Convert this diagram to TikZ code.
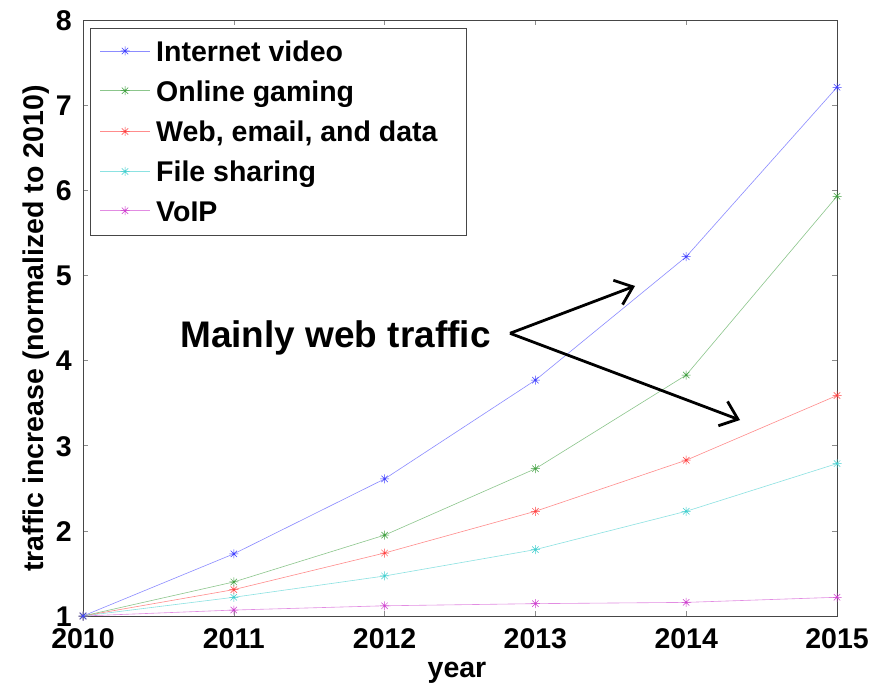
\documentclass[tikz,border=0pt]{standalone}
\usepackage{fontspec}
\setmainfont{Liberation Sans}
\usetikzlibrary{arrows.meta,plotmarks}
\pgfdeclareplotmark{mstar}{%
  \pgfpathmoveto{\pgfqpoint{-\pgfplotmarksize}{0pt}}\pgfpathlineto{\pgfqpoint{\pgfplotmarksize}{0pt}}%
  \pgfpathmoveto{\pgfqpoint{0pt}{-\pgfplotmarksize}}\pgfpathlineto{\pgfqpoint{0pt}{\pgfplotmarksize}}%
  \pgfpathmoveto{\pgfqpoint{-.7071\pgfplotmarksize}{-.7071\pgfplotmarksize}}\pgfpathlineto{\pgfqpoint{.7071\pgfplotmarksize}{.7071\pgfplotmarksize}}%
  \pgfpathmoveto{\pgfqpoint{-.7071\pgfplotmarksize}{.7071\pgfplotmarksize}}\pgfpathlineto{\pgfqpoint{.7071\pgfplotmarksize}{-.7071\pgfplotmarksize}}%
  \pgfusepathqstroke}
\definecolor{axgray}{RGB}{70,70,70}
\definecolor{tickgray}{RGB}{140,140,140}
\definecolor{mblue}{RGB}{0,0,255}
\definecolor{mgreen}{RGB}{0,128,0}
\definecolor{mred}{RGB}{255,0,0}
\definecolor{mcyan}{RGB}{0,191,191}
\definecolor{mmag}{RGB}{191,0,191}
\tikzset{
  lbl/.style={font=\fontsize{28.5}{30}\selectfont\bfseries, inner sep=0pt},
  serline/.style={line width=0.6pt, draw=#1!45},
  ser/.style={serline=#1, mark=mstar, mark size=4.5pt,
              mark options={draw=#1!75, line width=0.5pt}},
  tck/.style={draw=tickgray, line width=0.6pt},
  annarrow/.style={line width=2.8pt, -{Straight Barb[length=16pt,width=26pt,line width=2.8pt]}}
}
\begin{document}
\begin{tikzpicture}[x=1pt,y=1pt]
\useasboundingbox (0,0) rectangle (882,686);
\fill[white] (0,0) rectangle (882,686);
\begin{scope}[shift={(83pt,70pt)}, x=150.8pt, y=85.14pt]
  % ticks
  \foreach \i in {1,2,3,4} {
    \draw[tck] (\i,0) -- ++(0,5pt);
    \draw[tck] (\i,7) -- ++(0,-5pt);
  }
  \foreach \j in {1,...,6} {
    \draw[tck] (0,\j) -- ++(5pt,0);
    \draw[tck] (5,\j) -- ++(-5pt,0);
  }
  % axis box
  \draw[axgray, line width=0.9pt] (0,0) rectangle (5,7);
  % tick labels
  \foreach \i/\yr in {0/2010,1/2011,2/2012,3/2013,4/2014,5/2015}
    \node[lbl, anchor=base] (xt\i) at (\i,-32pt) {\yr};
  \foreach \j/\v in {0/1,1/2,2/3,3/4,4/5,5/6,6/7,7/8}
    \node[lbl, anchor=base east] (yt\j) at ([xshift=-11pt,yshift=-10.3pt]0,\j) {\v};
  % series
  \draw[ser=mmag] plot coordinates {(0,0) (1,0.07) (2,0.12) (3,0.145) (4,0.16) (5,0.22)};
  \draw[ser=mcyan] plot coordinates {(0,0) (1,0.22) (2,0.47) (3,0.78) (4,1.23) (5,1.79)};
  \draw[ser=mred] plot coordinates {(0,0) (1,0.31) (2,0.74) (3,1.23) (4,1.83) (5,2.59)};
  \draw[ser=mgreen] plot coordinates {(0,0) (1,0.40) (2,0.95) (3,1.73) (4,2.83) (5,4.93)};
  \draw[ser=mblue] plot coordinates {(0,0) (1,0.73) (2,1.61) (3,2.77) (4,4.22) (5,6.21)};
\end{scope}
% axis labels
\node[lbl, anchor=base] (xlab) at (457,9) {year};
\node[lbl, anchor=base, rotate=90] (ylab) at (43.3,357.5) {traffic increase (normalized to 2010)};
% legend
\draw[axgray, fill=white, line width=0.9pt] (90,451) rectangle (466.7,657.7);
\foreach \k/\c/\t [count=\n from 0] in {635/mblue/Internet video, 595.3/mgreen/Online gaming, 554.5/mred/{Web, email, and data}, 514.5/mcyan/File sharing, 475.3/mmag/VoIP} {
  \draw[serline=\c] (100,\k) -- (150,\k);
  \draw[draw=\c!75, line width=0.5pt] plot[mark=mstar, mark size=4.5pt] coordinates {(125,\k)};
  \node[lbl, anchor=base west] (leg\n) at (156,\k-10.5) {\t};
}
% annotation
\node[inner sep=0pt, anchor=base west, font=\fontsize{37}{40}\selectfont\bfseries] (ann) at (180,338.3) {Mainly web traffic};
\coordinate (src) at (510,352.7);
\coordinate (tip1) at (635,400);
\coordinate (tip2) at (740,266);
\draw[annarrow] (src) -- (tip1);
\draw[annarrow] (src) -- (tip2);
\end{tikzpicture}
\end{document}
